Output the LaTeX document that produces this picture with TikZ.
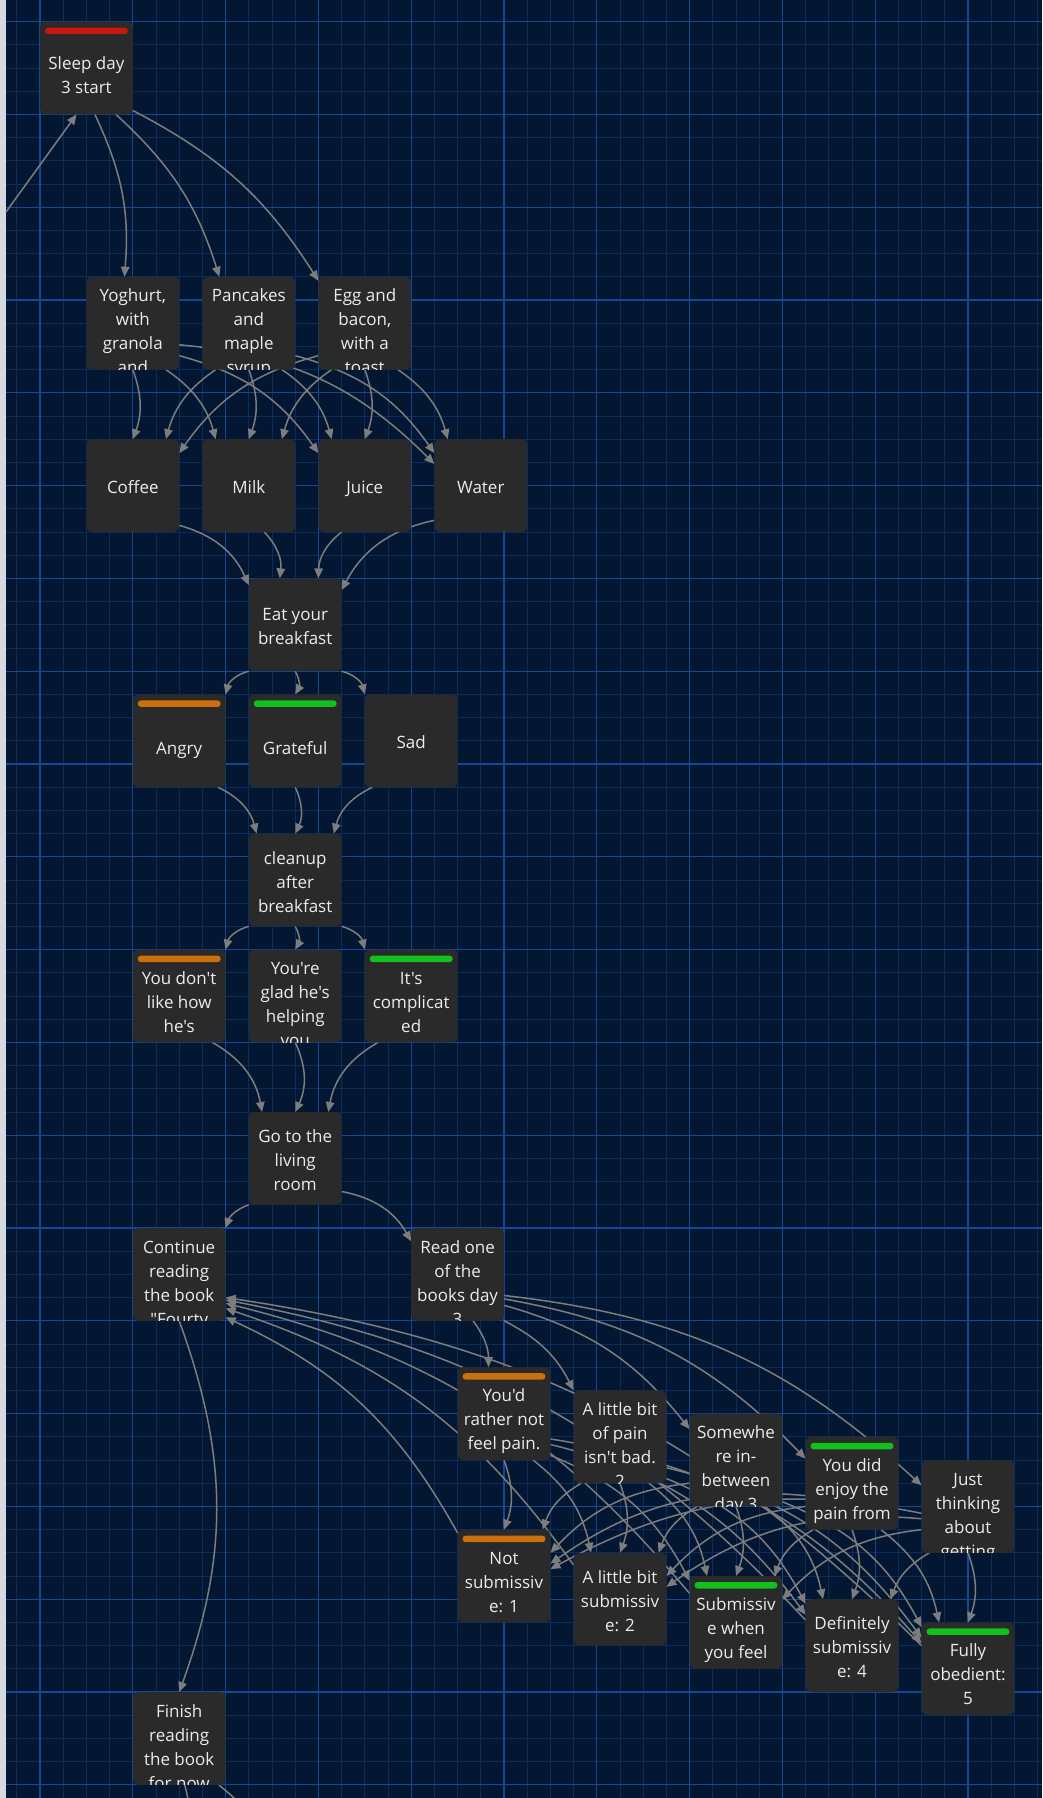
\documentclass[tikz,border=0pt]{standalone}
\usepackage{fontspec}
\setmainfont{Open Sans}[Ligatures=TeXOff]
\usetikzlibrary{arrows.meta,calc}
\definecolor{bgc}{RGB}{3,23,50}
\definecolor{minorc}{RGB}{12,44,90}
\definecolor{majorc}{RGB}{22,72,145}
\definecolor{cardc}{RGB}{42,42,42}
\definecolor{textc}{RGB}{236,236,236}
\definecolor{edgec}{RGB}{125,125,125}
\definecolor{barred}{RGB}{200,22,16}
\definecolor{barorange}{RGB}{202,112,12}
\definecolor{bargreen}{RGB}{18,192,30}
\definecolor{stripc}{RGB}{214,218,224}
\pgfdeclarelayer{gridlayer}
\pgfdeclarelayer{edgelayer}
\pgfsetlayers{gridlayer,edgelayer,main}
\tikzset{
  card/.style={fill=cardc, rounded corners=5pt, minimum width=92.8pt, minimum height=92.8pt, inner sep=0pt, outer sep=0pt},
  txt/.style={text=textc, font=\fontsize{17}{24}\selectfont, inner sep=0pt, anchor=base},
  edge/.style={draw=edgec, line width=1.5pt, -{Triangle[length=10pt,width=8.5pt]}},
  plainedge/.style={draw=edgec, line width=1.5pt},
  minorline/.style={draw=minorc, line width=0.8pt},
  majorline/.style={draw=majorc, line width=1.3pt},
}
\newdimen\edx
% card: name, i, j, bar colour or none, first-line centre offset, lines
\newcommand\card[6]{%
  \pgfmathsetmacro\cx{40+23.2*#2}%
  \pgfmathsetmacro\cy{21.6+23.2*#3}%
  \node[card] (#1) at ({\cx+46.4},{\cy+46.4}) {};
  \def\tmpa{#4}\def\tmpb{none}%
  \ifx\tmpa\tmpb\else\fill[#4,rounded corners=3pt] ({\cx+5},{\cy+6}) rectangle ({\cx+87.8},{\cy+12.5});\fi
  \begin{scope}
    \clip[rounded corners=5pt] (\cx,\cy) rectangle ({\cx+92.8},{\cy+92.8});
    \foreach \t [count=\k] in {#6} {\node[txt] at ({\cx+46.4},{\cy+#5+24*(\k-1)+5}) {\t};}
  \end{scope}
}
% edge from node to node, bent like the reference
\newcommand\edg[3][20]{%
  \path (#2) -- (#3) coordinate[pos=0] (es) coordinate[pos=1] (et);%
  \pgfextractx{\edx}{\pgfpointdiff{\pgfpointanchor{es}{center}}{\pgfpointanchor{et}{center}}}%
  \begin{pgfonlayer}{edgelayer}%
  \ifdim\edx>-0.5pt \draw[edge] (es) to[bend left=#1] (et);\else \draw[edge] (es) to[bend right=#1] (et);\fi
  \end{pgfonlayer}}
\begin{document}
\begin{tikzpicture}[x=1pt,y=-1pt]
\useasboundingbox (0,0) rectangle (1042,1798);
\begin{pgfonlayer}{gridlayer}
\fill[bgc] (0,0) rectangle (1042,1798);
\foreach \i in {-1,...,43} {\draw[minorline] ({40+23.2*\i},0) -- ({40+23.2*\i},1798);}
\foreach \j in {-1,...,77} {\draw[minorline] (0,{21.6+23.2*\j}) -- (1042,{21.6+23.2*\j});}
\foreach \i in {0,...,10} {\draw[majorline] ({40+92.8*\i},0) -- ({40+92.8*\i},1798);}
\foreach \j in {0,...,19} {\draw[majorline] (0,{21.6+92.8*\j}) -- (1042,{21.6+92.8*\j});}
\fill[stripc] (0,0) rectangle (6,1798);
\end{pgfonlayer}

\card{sleep}{0}{0}{barred}{42.6}{Sleep day,3 start}
\card{yog}{2}{11}{none}{20}{{Yoghurt,},with,granola,and}
\card{pan}{7}{11}{none}{20}{Pancakes,and,maple,syrup}
\card{egg}{12}{11}{none}{20}{Egg and,{bacon,},with a,toast}
\card{cof}{2}{18}{none}{49.4}{Coffee}
\card{mil}{7}{18}{none}{49.4}{Milk}
\card{jui}{12}{18}{none}{49.4}{Juice}
\card{wat}{17}{18}{none}{49.4}{Water}
\card{eat}{9}{24}{none}{37.4}{Eat your,breakfast}
\card{ang}{4}{29}{barorange}{54.6}{Angry}
\card{gra}{9}{29}{bargreen}{54.6}{Grateful}
\card{sad}{14}{29}{none}{49.4}{Sad}
\card{cln}{9}{35}{none}{25.4}{cleanup,after,breakfast}
\card{ydl}{4}{40}{barorange}{29.5}{You don't,like how,he's}
\card{ygl}{9}{40}{none}{20}{You're,glad he's,helping,you}
\card{itc}{14}{40}{bargreen}{29.5}{It's,complicat,ed}
\card{go}{9}{47}{none}{25.4}{Go to the,living,room}
\card{cont}{4}{52}{none}{20}{Continue,reading,the book,"Fourty}
\card{read}{16}{52}{none}{20}{Read one,of the,books day,3}
\card{pa}{18}{58}{barorange}{29.5}{You'd,rather not,feel pain.}
\card{pb}{23}{59}{none}{20}{A little bit,of pain,isn't bad.,2}
\card{pc}{28}{60}{none}{20}{Somewhe,re in-,between,day 3}
\card{pd}{33}{61}{bargreen}{29.5}{You did,enjoy the,pain from}
\card{pe}{38}{62}{none}{20}{Just,thinking,about,getting}
\card{sa}{18}{65}{barorange}{29.5}{Not,submissiv,e: 1}
\card{sb}{23}{66}{none}{25.4}{A little bit,submissiv,e: 2}
\card{sc}{28}{67}{bargreen}{29.5}{Submissiv,e when,you feel}
\card{sd}{33}{68}{none}{25.4}{Definitely,submissiv,e: 4}
\card{se}{38}{69}{bargreen}{29.5}{Fully,obedient:,5}
\card{fin}{4}{72}{none}{20}{Finish,reading,the book,for now}

\coordinate (offL) at (6,212);
\coordinate (offB1) at (190,1830);
\coordinate (offB2) at (300,1880);
\begin{pgfonlayer}{edgelayer}
\draw[edge] (offL) -- (sleep.258);
\end{pgfonlayer}

\foreach \b in {yog,pan,egg} {\edg[15]{sleep}{\b}}
\foreach \a in {yog,pan,egg} {\foreach \b in {cof,mil,jui,wat} {\edg[20]{\a}{\b}}}
\foreach \a in {cof,mil,jui,wat} {\edg[25]{\a}{eat}}
\foreach \b in {ang,gra,sad} {\edg[30]{eat}{\b}}
\foreach \a in {ang,gra,sad} {\edg[25]{\a}{cln}}
\foreach \b in {ydl,ygl,itc} {\edg[30]{cln}{\b}}
\foreach \a in {ydl,ygl,itc} {\edg[25]{\a}{go}}
\edg[25]{go}{cont}
\edg[25]{go}{read}
\edg[20]{cont}{fin}
\foreach \b in {pa,pb,pc,pd,pe} {\edg[18]{read}{\b}}
\foreach \a in {pa,pb,pc,pd,pe} {\foreach \b in {sa,sb,sc,sd,se} {\edg[20]{\a}{\b}}}
\foreach \a in {sa,sb,sc,sd,se} {\edg[18]{\a}{cont}}

\begin{pgfonlayer}{edgelayer}
\path (fin) -- (offB1) coordinate[pos=0] (es) coordinate[pos=1] (et);
\draw[plainedge] (es) to[bend left=8] (et);
\path (fin) -- (offB2) coordinate[pos=0] (es) coordinate[pos=1] (et);
\draw[plainedge] (es) to[bend left=10] (et);
\end{pgfonlayer}
\end{tikzpicture}
\end{document}
